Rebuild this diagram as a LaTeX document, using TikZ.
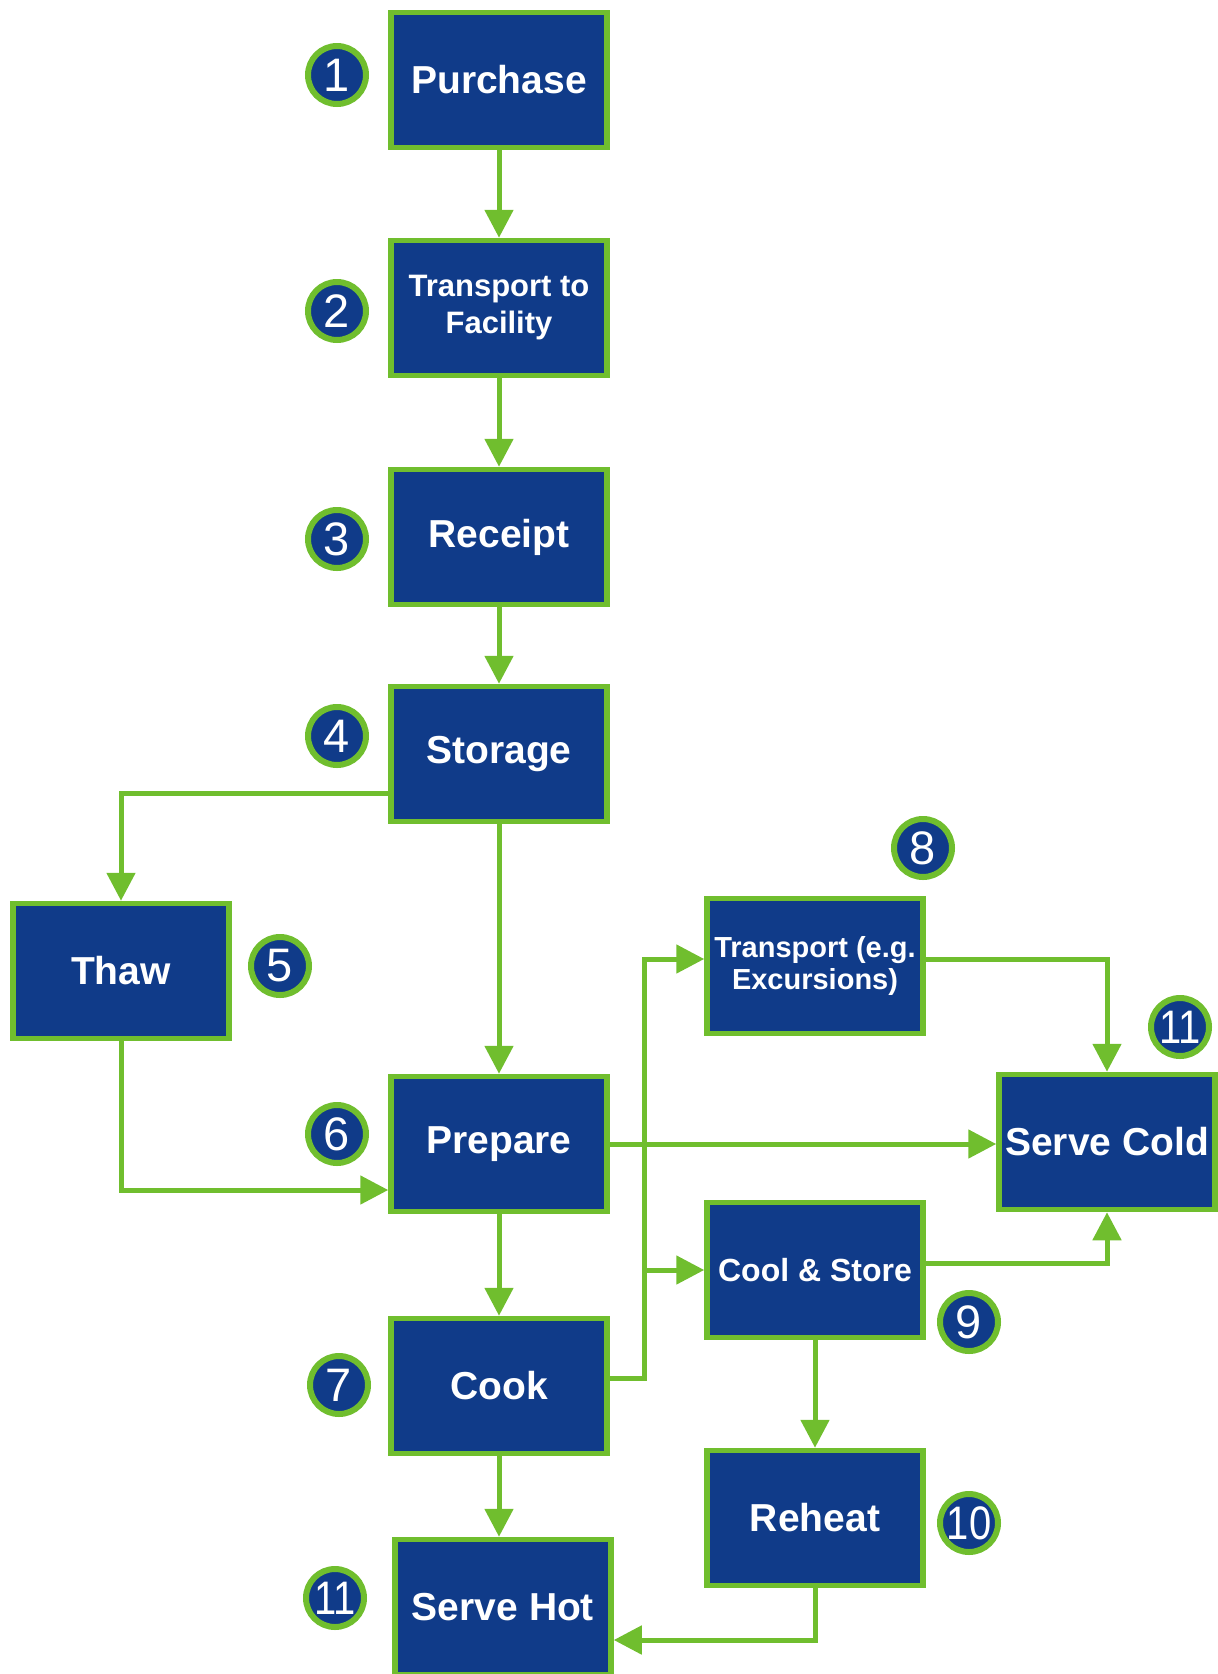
\documentclass[tikz,border=0pt]{standalone}
\usepackage{fontspec}
\setmainfont{Liberation Sans}
\usepackage{graphicx}
\usetikzlibrary{arrows.meta}
\definecolor{boxblue}{RGB}{16,59,137}
\definecolor{flowgreen}{RGB}{112,190,46}

\begin{document}
\begin{tikzpicture}[x=1pt,y=-1pt,
	box/.style={draw=flowgreen,fill=boxblue,line width=5.5pt,minimum width=216pt,minimum height=135pt,
		inner sep=0pt,align=center,text=white,font=\fontsize{39}{44}\selectfont\bfseries},
	num/.style={circle,draw=flowgreen,fill=boxblue,line width=6pt,minimum size=58pt,inner sep=0pt,
		text=white,font=\fontsize{47}{47}\selectfont},
	link/.style={draw=flowgreen,line width=5pt,-{Triangle[length=28pt,width=28pt]}}]
	\useasboundingbox (0,0) rectangle (1218,1674);
	% main column
	\node[box] (purchase) at (499,80) {Purchase};
	\node[box,font=\fontsize{31}{37}\selectfont\bfseries] (facility) at (499,308) {\raisebox{6pt}{\begin{tabular}{@{}c@{}}Transport to\\Facility\end{tabular}}};
	\node[box] (receipt) at (499,537) {Receipt};
	\node[box] (storage) at (499,754) {Storage};
	\node[box] (thaw) at (121,971) {Thaw};
	\node[box] (prepare) at (499,1144) {Prepare};
	\node[box] (cook) at (499,1386) {Cook};
	\node[box] (hot) at (503,1607) {Serve Hot};
	% right branch
	\node[box,font=\fontsize{29}{32}\selectfont\bfseries] (tport) at (815,966) {Transport (e.g.\\Excursions)};
	\node[box,font=\fontsize{32}{38}\selectfont\bfseries] (cool) at (815,1270) {Cool \& Store};
	\node[box] (reheat) at (815,1518) {Reheat};
	\node[box] (cold) at (1107,1142) {Serve Cold};
	% step numbers
	\node[num] (n1) at (337,75) {1};
	\node[num] (n2) at (337,311) {2};
	\node[num] (n3) at (337,539) {3};
	\node[num] (n4) at (337,736) {4};
	\node[num] (n5) at (280,966) {5};
	\node[num] (n6) at (337,1134) {6};
	\node[num] (n7) at (339,1385) {7};
	\node[num] (n8) at (923,848) {8};
	\node[num] (n9) at (969,1322) {9};
	\node[num] (n10) at (969,1523) {\scalebox{0.85}[1]{10}};
	\node[num] (n11a) at (335,1598) {\scalebox{0.85}[1]{11}};
	\node[num] (n11b) at (1180,1027) {\scalebox{0.85}[1]{11}};
	% flow
	\draw[link] (purchase) -- (facility);
	\draw[link] (facility) -- (receipt);
	\draw[link] (receipt) -- (storage);
	\draw[link] ([yshift=-39pt]storage.west) -| (thaw.north);
	\draw[link] (storage) -- (prepare);
	\draw[link] (thaw.south) |- ([yshift=-46pt]prepare.west);
	\draw[link] (prepare.east) -- (prepare.east -| cold.west);
	\draw[link] (prepare) -- (cook);
	\draw[link] (cook.south) -- (cook.south |- hot.north);
	\draw[link] ([yshift=8pt]cook.east) -| ([xshift=-60pt,yshift=7pt]tport.west) -- ([yshift=7pt]tport.west);
	\draw[link] ([xshift=-60pt]cool.west) -- (cool.west);
	\draw[link] ([yshift=7pt]tport.east) -| (cold.north);
	\draw[link] ([yshift=7pt]cool.east) -| (cold.south);
	\draw[link] (cool) -- (reheat);
	\draw[link] (reheat.south) |- ([yshift=-33pt]hot.east);
\end{tikzpicture}
\end{document}
